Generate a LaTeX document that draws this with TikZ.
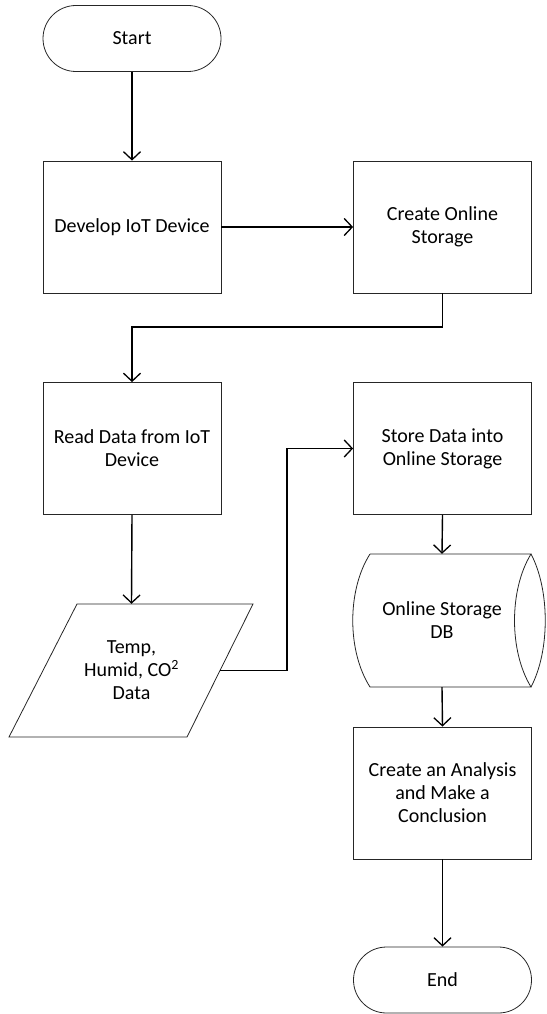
\documentclass[tikz,border=0pt]{standalone}
\usepackage{fontspec}
\setmainfont{Carlito}
\usetikzlibrary{arrows.meta}
\begin{document}
\begin{tikzpicture}[x=1pt,y=-1pt,
  txt/.style={align=center, font=\fontsize{20}{23}\selectfont},
  box/.style={txt, draw=black!85, line width=0.8pt, minimum width=178pt, minimum height=132pt, inner sep=2pt},
  term/.style={box, rounded corners=33pt, minimum height=66pt},
  ghost/.style={txt, minimum width=178pt, minimum height=133pt, inner sep=0pt},
  shp/.style={draw=black!85, line width=0.8pt},
  conn/.style={line width=1.4pt, -{Straight Barb[length=8pt,width=17pt,line width=1.3pt]}}
]
\useasboundingbox (0,0) rectangle (546,1014);

\node[term] (start) at (132,38.5) {Start};
\node[box] (develop) at (132,227) {Develop IoT Device};
\node[box] (create) at (442.5,227) {Create Online\\Storage};
\node[box] (read) at (132,448.5) {Read Data from IoT\\Device};
\node[box] (store) at (442.5,448.5) {Store Data into\\Online Storage};

% data parallelogram
\draw[shp] (77,604) -- (253,604) -- (187,737) -- (9,737) -- cycle;
\node[ghost, minimum width=177pt] (data) at (131.5,670.5) {Temp,\\Humid, CO\textsuperscript{2}\\Data};

% online storage DB
\node[ghost] (db) at (442,620.5) {Online Storage\\DB};
\draw[shp] (370,554) -- (531,554)
  .. controls (509,590) and (509,651) .. (531,687)
  -- (370,687)
  .. controls (347,651) and (347,590) .. (370,554);
\draw[shp] (531,554) .. controls (550,590) and (550,651) .. (531,687);

\node[box] (analysis) at (442.5,793) {Create an Analysis\\and Make a\\Conclusion};
\node[term] (end) at (442.5,980) {End};

\coordinate (j1) at (287,327);
\coordinate (j2) at (287,560);

\draw[conn] (start.south) -- (develop.north);
\draw[conn] (develop.east) -- (create.west);
\draw[conn] (create.south) |- (j1) -| (read.north);
\draw[conn] (read.south) -- (data.north);
\draw[conn] (data.east) -| (j2) |- (store.west);
\draw[conn] (store.south) -- (db.north);
\draw[conn] (db.south) -- (analysis.north);
\draw[conn] (analysis.south) -- (end.north);
\end{tikzpicture}
\end{document}
